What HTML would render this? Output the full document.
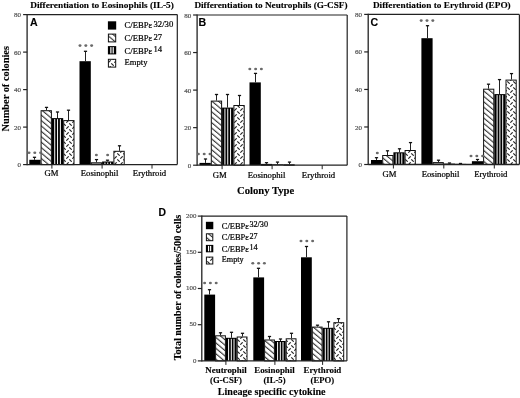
<!DOCTYPE html>
<html><head><meta charset="utf-8"><style>
html,body{margin:0;padding:0;background:#fff;width:520px;height:398px;overflow:hidden}
svg{display:block;will-change:transform;filter:blur(0.3px)}
</style></head><body>
<svg width="520" height="398" viewBox="0 0 520 398">
<defs>
<pattern id="hatch" patternUnits="userSpaceOnUse" width="4.15" height="4.15" patternTransform="rotate(-50)">
<rect width="4.15" height="4.15" fill="#fff"/><line x1="0.6" y1="0" x2="0.6" y2="4.15" stroke="#111" stroke-width="0.95"/></pattern>
<pattern id="zig" patternUnits="userSpaceOnUse" width="6" height="6">
<rect width="6" height="6" fill="#fff"/>
<line x1="0.3" y1="2.7" x2="2.7" y2="0.3" stroke="#222" stroke-width="1.15"/>
<line x1="3.3" y1="3.3" x2="5.7" y2="5.7" stroke="#222" stroke-width="1.15"/>
</pattern>
</defs>
<rect width="520" height="398" fill="#fff"/>
<rect x="29.3" y="159.8" width="11.3" height="4.8" fill="#000"/>
<rect x="41.1" y="110.7" width="10.3" height="53.9" fill="url(#hatch)" stroke="#111" stroke-width="1"/>
<rect x="51.9" y="118.1" width="11.3" height="46.5" fill="#000"/>
<rect x="54.23" y="119.1" width="1" height="45.5" fill="#fff"/>
<rect x="57.05" y="119.1" width="1" height="45.5" fill="#fff"/>
<rect x="59.88" y="119.1" width="1" height="45.5" fill="#fff"/>
<rect x="63.7" y="120.6" width="10.3" height="44" fill="url(#zig)" stroke="#111" stroke-width="1"/>
<line x1="34.5" y1="159.8" x2="34.5" y2="157.3" stroke="#222" stroke-width="1.0"/>
<line x1="32.9" y1="157.3" x2="36.1" y2="157.3" stroke="#111" stroke-width="1.3"/>
<line x1="46.5" y1="110.2" x2="46.5" y2="107.4" stroke="#222" stroke-width="1.0"/>
<line x1="44.9" y1="107.4" x2="48.1" y2="107.4" stroke="#111" stroke-width="1.3"/>
<line x1="57.5" y1="118.1" x2="57.5" y2="112" stroke="#222" stroke-width="1.0"/>
<line x1="55.9" y1="112" x2="59.1" y2="112" stroke="#111" stroke-width="1.3"/>
<line x1="68.5" y1="120.1" x2="68.5" y2="110.2" stroke="#222" stroke-width="1.0"/>
<line x1="66.9" y1="110.2" x2="70.1" y2="110.2" stroke="#111" stroke-width="1.3"/>
<rect x="79.5" y="61.2" width="11.3" height="103.4" fill="#000"/>
<rect x="91.3" y="162.8" width="10.3" height="1.8" fill="#999" stroke="#111" stroke-width="1"/>
<rect x="102.1" y="161.5" width="11.3" height="3.1" fill="#000"/>
<rect x="104.42" y="162.5" width="1" height="2.1" fill="#fff"/>
<rect x="107.25" y="162.5" width="1" height="2.1" fill="#fff"/>
<rect x="110.07" y="162.5" width="1" height="2.1" fill="#fff"/>
<rect x="113.9" y="151.3" width="10.3" height="13.3" fill="url(#zig)" stroke="#111" stroke-width="1"/>
<line x1="85.5" y1="61.2" x2="85.5" y2="51.3" stroke="#222" stroke-width="1.0"/>
<line x1="83.9" y1="51.3" x2="87.1" y2="51.3" stroke="#111" stroke-width="1.3"/>
<line x1="96.5" y1="162.3" x2="96.5" y2="159.6" stroke="#222" stroke-width="1.0"/>
<line x1="94.9" y1="159.6" x2="98.1" y2="159.6" stroke="#111" stroke-width="1.3"/>
<line x1="107.5" y1="161.5" x2="107.5" y2="160.2" stroke="#222" stroke-width="1.0"/>
<line x1="105.9" y1="160.2" x2="109.1" y2="160.2" stroke="#111" stroke-width="1.3"/>
<line x1="119.5" y1="150.8" x2="119.5" y2="145.8" stroke="#222" stroke-width="1.0"/>
<line x1="117.9" y1="145.8" x2="121.1" y2="145.8" stroke="#111" stroke-width="1.3"/>
<line x1="27.1" y1="14.6" x2="177.3" y2="14.6" stroke="#222" stroke-width="1.2"/>
<line x1="177.3" y1="14.6" x2="177.3" y2="164.6" stroke="#222" stroke-width="1.2"/>
<line x1="27.1" y1="14" x2="27.1" y2="165.2" stroke="#222" stroke-width="1.3"/>
<line x1="27.1" y1="164.6" x2="177.3" y2="164.6" stroke="#222" stroke-width="1.3"/>
<line x1="23.1" y1="164.6" x2="27.1" y2="164.6" stroke="#222" stroke-width="1.2"/>
<text x="21" y="167.12" style="font-family:'Liberation Serif';font-size:7.0px;font-weight:normal" text-anchor="end" fill="#555"  stroke="#555" stroke-width="0.22">0</text>
<line x1="23.1" y1="127.1" x2="27.1" y2="127.1" stroke="#222" stroke-width="1.2"/>
<text x="21" y="129.62" style="font-family:'Liberation Serif';font-size:7.0px;font-weight:normal" text-anchor="end" fill="#555"  stroke="#555" stroke-width="0.22">20</text>
<line x1="23.1" y1="89.6" x2="27.1" y2="89.6" stroke="#222" stroke-width="1.2"/>
<text x="21" y="92.12" style="font-family:'Liberation Serif';font-size:7.0px;font-weight:normal" text-anchor="end" fill="#555"  stroke="#555" stroke-width="0.22">40</text>
<line x1="23.1" y1="52.1" x2="27.1" y2="52.1" stroke="#222" stroke-width="1.2"/>
<text x="21" y="54.62" style="font-family:'Liberation Serif';font-size:7.0px;font-weight:normal" text-anchor="end" fill="#555"  stroke="#555" stroke-width="0.22">60</text>
<line x1="23.1" y1="14.6" x2="27.1" y2="14.6" stroke="#222" stroke-width="1.2"/>
<text x="21" y="17.12" style="font-family:'Liberation Serif';font-size:7.0px;font-weight:normal" text-anchor="end" fill="#555"  stroke="#555" stroke-width="0.22">80</text>
<line x1="51.9" y1="164.6" x2="51.9" y2="168.6" stroke="#222" stroke-width="1.0"/>
<line x1="102.1" y1="164.6" x2="102.1" y2="168.6" stroke="#222" stroke-width="1.0"/>
<line x1="152" y1="164.6" x2="152" y2="168.6" stroke="#222" stroke-width="1.0"/>
<ellipse cx="29" cy="152.8" rx="1.5" ry="1.3" fill="#6a6a6a"/>
<ellipse cx="34.8" cy="152.8" rx="1.5" ry="1.3" fill="#6a6a6a"/>
<ellipse cx="40.6" cy="152.8" rx="1.5" ry="1.3" fill="#6a6a6a"/>
<ellipse cx="80" cy="45.6" rx="1.5" ry="1.3" fill="#6a6a6a"/>
<ellipse cx="85.8" cy="45.6" rx="1.5" ry="1.3" fill="#6a6a6a"/>
<ellipse cx="91.6" cy="45.6" rx="1.5" ry="1.3" fill="#6a6a6a"/>
<ellipse cx="96.4" cy="155" rx="1.5" ry="1.3" fill="#6a6a6a"/>
<ellipse cx="107.6" cy="155" rx="1.5" ry="1.3" fill="#6a6a6a"/>
<rect x="199.5" y="162.9" width="11.3" height="2.3" fill="#000"/>
<rect x="211.3" y="101.1" width="10.3" height="64.1" fill="url(#hatch)" stroke="#111" stroke-width="1"/>
<rect x="222.1" y="107.6" width="11.3" height="57.6" fill="#000"/>
<rect x="224.42" y="108.6" width="1" height="56.6" fill="#fff"/>
<rect x="227.25" y="108.6" width="1" height="56.6" fill="#fff"/>
<rect x="230.07" y="108.6" width="1" height="56.6" fill="#fff"/>
<rect x="233.9" y="105.5" width="10.3" height="59.7" fill="url(#zig)" stroke="#111" stroke-width="1"/>
<line x1="205.5" y1="162.9" x2="205.5" y2="159" stroke="#222" stroke-width="1.0"/>
<line x1="203.9" y1="159" x2="207.1" y2="159" stroke="#111" stroke-width="1.3"/>
<line x1="216.5" y1="100.6" x2="216.5" y2="94.5" stroke="#222" stroke-width="1.0"/>
<line x1="214.9" y1="94.5" x2="218.1" y2="94.5" stroke="#111" stroke-width="1.3"/>
<line x1="227.5" y1="107.6" x2="227.5" y2="94.5" stroke="#222" stroke-width="1.0"/>
<line x1="225.9" y1="94.5" x2="229.1" y2="94.5" stroke="#111" stroke-width="1.3"/>
<line x1="239.5" y1="105" x2="239.5" y2="95.5" stroke="#222" stroke-width="1.0"/>
<line x1="237.9" y1="95.5" x2="241.1" y2="95.5" stroke="#111" stroke-width="1.3"/>
<rect x="249.5" y="82.4" width="11.3" height="82.8" fill="#000"/>
<rect x="261.3" y="164.4" width="10.3" height="0.8" fill="#999" stroke="#111" stroke-width="1"/>
<rect x="272.1" y="164.3" width="11.3" height="0.9" fill="#000"/>
<rect x="283.9" y="164.8" width="10.3" height="0.4" fill="#999" stroke="#111" stroke-width="1"/>
<line x1="255.5" y1="82.4" x2="255.5" y2="73.4" stroke="#222" stroke-width="1.0"/>
<line x1="253.9" y1="73.4" x2="257.1" y2="73.4" stroke="#111" stroke-width="1.3"/>
<line x1="266.5" y1="163.9" x2="266.5" y2="162.7" stroke="#222" stroke-width="1.0"/>
<line x1="264.9" y1="162.7" x2="268.1" y2="162.7" stroke="#111" stroke-width="1.3"/>
<line x1="277.5" y1="164.3" x2="277.5" y2="162.1" stroke="#222" stroke-width="1.0"/>
<line x1="275.9" y1="162.1" x2="279.1" y2="162.1" stroke="#111" stroke-width="1.3"/>
<line x1="289.5" y1="164.3" x2="289.5" y2="162.1" stroke="#222" stroke-width="1.0"/>
<line x1="287.9" y1="162.1" x2="291.1" y2="162.1" stroke="#111" stroke-width="1.3"/>
<line x1="197.1" y1="15" x2="347.2" y2="15" stroke="#222" stroke-width="1.2"/>
<line x1="347.2" y1="15" x2="347.2" y2="165.2" stroke="#222" stroke-width="1.2"/>
<line x1="197.1" y1="14.4" x2="197.1" y2="165.8" stroke="#222" stroke-width="1.3"/>
<line x1="197.1" y1="165.2" x2="347.2" y2="165.2" stroke="#222" stroke-width="1.3"/>
<line x1="193.1" y1="165.2" x2="197.1" y2="165.2" stroke="#222" stroke-width="1.2"/>
<text x="191.2" y="167.72" style="font-family:'Liberation Serif';font-size:7.0px;font-weight:normal" text-anchor="end" fill="#555"  stroke="#555" stroke-width="0.22">0</text>
<line x1="193.1" y1="127.65" x2="197.1" y2="127.65" stroke="#222" stroke-width="1.2"/>
<text x="191.2" y="130.17" style="font-family:'Liberation Serif';font-size:7.0px;font-weight:normal" text-anchor="end" fill="#555"  stroke="#555" stroke-width="0.22">20</text>
<line x1="193.1" y1="90.1" x2="197.1" y2="90.1" stroke="#222" stroke-width="1.2"/>
<text x="191.2" y="92.62" style="font-family:'Liberation Serif';font-size:7.0px;font-weight:normal" text-anchor="end" fill="#555"  stroke="#555" stroke-width="0.22">40</text>
<line x1="193.1" y1="52.55" x2="197.1" y2="52.55" stroke="#222" stroke-width="1.2"/>
<text x="191.2" y="55.07" style="font-family:'Liberation Serif';font-size:7.0px;font-weight:normal" text-anchor="end" fill="#555"  stroke="#555" stroke-width="0.22">60</text>
<line x1="193.1" y1="15" x2="197.1" y2="15" stroke="#222" stroke-width="1.2"/>
<text x="191.2" y="17.52" style="font-family:'Liberation Serif';font-size:7.0px;font-weight:normal" text-anchor="end" fill="#555"  stroke="#555" stroke-width="0.22">80</text>
<line x1="222.1" y1="165.2" x2="222.1" y2="169.2" stroke="#222" stroke-width="1.0"/>
<line x1="272.1" y1="165.2" x2="272.1" y2="169.2" stroke="#222" stroke-width="1.0"/>
<line x1="322.2" y1="165.2" x2="322.2" y2="169.2" stroke="#222" stroke-width="1.0"/>
<ellipse cx="198.4" cy="154" rx="1.5" ry="1.3" fill="#6a6a6a"/>
<ellipse cx="204.2" cy="154" rx="1.5" ry="1.3" fill="#6a6a6a"/>
<ellipse cx="210" cy="154" rx="1.5" ry="1.3" fill="#6a6a6a"/>
<ellipse cx="249.8" cy="69" rx="1.5" ry="1.3" fill="#6a6a6a"/>
<ellipse cx="255.6" cy="69" rx="1.5" ry="1.3" fill="#6a6a6a"/>
<ellipse cx="261.4" cy="69" rx="1.5" ry="1.3" fill="#6a6a6a"/>
<rect x="371" y="160" width="11.2" height="4.5" fill="#000"/>
<rect x="382.7" y="155.5" width="10.2" height="9" fill="url(#hatch)" stroke="#111" stroke-width="1"/>
<rect x="393.4" y="152.3" width="11.2" height="12.2" fill="#000"/>
<rect x="395.7" y="153.3" width="1" height="11.2" fill="#fff"/>
<rect x="398.5" y="153.3" width="1" height="11.2" fill="#fff"/>
<rect x="401.3" y="153.3" width="1" height="11.2" fill="#fff"/>
<rect x="405.1" y="150.5" width="10.2" height="14" fill="url(#zig)" stroke="#111" stroke-width="1"/>
<line x1="376.5" y1="160" x2="376.5" y2="157.7" stroke="#222" stroke-width="1.0"/>
<line x1="374.9" y1="157.7" x2="378.1" y2="157.7" stroke="#111" stroke-width="1.3"/>
<line x1="387.5" y1="155" x2="387.5" y2="150.8" stroke="#222" stroke-width="1.0"/>
<line x1="385.9" y1="150.8" x2="389.1" y2="150.8" stroke="#111" stroke-width="1.3"/>
<line x1="399.5" y1="152.3" x2="399.5" y2="148.8" stroke="#222" stroke-width="1.0"/>
<line x1="397.9" y1="148.8" x2="401.1" y2="148.8" stroke="#111" stroke-width="1.3"/>
<line x1="410.5" y1="150" x2="410.5" y2="142.6" stroke="#222" stroke-width="1.0"/>
<line x1="408.9" y1="142.6" x2="412.1" y2="142.6" stroke="#111" stroke-width="1.3"/>
<rect x="421.4" y="38.2" width="11.2" height="126.3" fill="#000"/>
<rect x="433.1" y="162.6" width="10.2" height="1.9" fill="#999" stroke="#111" stroke-width="1"/>
<rect x="443.8" y="163.6" width="11.2" height="0.9" fill="#000"/>
<rect x="455.5" y="164.4" width="10.2" height="0.1" fill="#999" stroke="#111" stroke-width="1"/>
<line x1="427.5" y1="38.2" x2="427.5" y2="25.7" stroke="#222" stroke-width="1.0"/>
<line x1="425.9" y1="25.7" x2="429.1" y2="25.7" stroke="#111" stroke-width="1.3"/>
<line x1="438.5" y1="162.1" x2="438.5" y2="160.2" stroke="#222" stroke-width="1.0"/>
<line x1="436.9" y1="160.2" x2="440.1" y2="160.2" stroke="#111" stroke-width="1.3"/>
<line x1="449.5" y1="163.6" x2="449.5" y2="163" stroke="#222" stroke-width="1.0"/>
<line x1="447.9" y1="163" x2="451.1" y2="163" stroke="#111" stroke-width="1.3"/>
<line x1="460.5" y1="163.9" x2="460.5" y2="163.5" stroke="#222" stroke-width="1.0"/>
<line x1="458.9" y1="163.5" x2="462.1" y2="163.5" stroke="#111" stroke-width="1.3"/>
<rect x="471.9" y="161.2" width="11.2" height="3.3" fill="#000"/>
<rect x="483.6" y="89.2" width="10.2" height="75.3" fill="url(#hatch)" stroke="#111" stroke-width="1"/>
<rect x="494.3" y="94.1" width="11.2" height="70.4" fill="#000"/>
<rect x="496.6" y="95.1" width="1" height="69.4" fill="#fff"/>
<rect x="499.4" y="95.1" width="1" height="69.4" fill="#fff"/>
<rect x="502.2" y="95.1" width="1" height="69.4" fill="#fff"/>
<rect x="506" y="80.1" width="10.2" height="84.4" fill="url(#zig)" stroke="#111" stroke-width="1"/>
<line x1="477.5" y1="161.2" x2="477.5" y2="159.5" stroke="#222" stroke-width="1.0"/>
<line x1="475.9" y1="159.5" x2="479.1" y2="159.5" stroke="#111" stroke-width="1.3"/>
<line x1="488.5" y1="88.7" x2="488.5" y2="84.2" stroke="#222" stroke-width="1.0"/>
<line x1="486.9" y1="84.2" x2="490.1" y2="84.2" stroke="#111" stroke-width="1.3"/>
<line x1="499.5" y1="94.1" x2="499.5" y2="79.6" stroke="#222" stroke-width="1.0"/>
<line x1="497.9" y1="79.6" x2="501.1" y2="79.6" stroke="#111" stroke-width="1.3"/>
<line x1="511.5" y1="79.6" x2="511.5" y2="73.6" stroke="#222" stroke-width="1.0"/>
<line x1="509.9" y1="73.6" x2="513.1" y2="73.6" stroke="#111" stroke-width="1.3"/>
<line x1="368.2" y1="14.4" x2="519.4" y2="14.4" stroke="#222" stroke-width="1.2"/>
<line x1="519.4" y1="14.4" x2="519.4" y2="164.5" stroke="#222" stroke-width="1.2"/>
<line x1="368.2" y1="13.8" x2="368.2" y2="165.1" stroke="#222" stroke-width="1.3"/>
<line x1="368.2" y1="164.5" x2="519.4" y2="164.5" stroke="#222" stroke-width="1.3"/>
<line x1="364.2" y1="164.5" x2="368.2" y2="164.5" stroke="#222" stroke-width="1.2"/>
<text x="362" y="167.02" style="font-family:'Liberation Serif';font-size:7.0px;font-weight:normal" text-anchor="end" fill="#555"  stroke="#555" stroke-width="0.22">0</text>
<line x1="364.2" y1="126.97" x2="368.2" y2="126.97" stroke="#222" stroke-width="1.2"/>
<text x="362" y="129.5" style="font-family:'Liberation Serif';font-size:7.0px;font-weight:normal" text-anchor="end" fill="#555"  stroke="#555" stroke-width="0.22">20</text>
<line x1="364.2" y1="89.45" x2="368.2" y2="89.45" stroke="#222" stroke-width="1.2"/>
<text x="362" y="91.97" style="font-family:'Liberation Serif';font-size:7.0px;font-weight:normal" text-anchor="end" fill="#555"  stroke="#555" stroke-width="0.22">40</text>
<line x1="364.2" y1="51.92" x2="368.2" y2="51.92" stroke="#222" stroke-width="1.2"/>
<text x="362" y="54.45" style="font-family:'Liberation Serif';font-size:7.0px;font-weight:normal" text-anchor="end" fill="#555"  stroke="#555" stroke-width="0.22">60</text>
<line x1="364.2" y1="14.4" x2="368.2" y2="14.4" stroke="#222" stroke-width="1.2"/>
<text x="362" y="16.92" style="font-family:'Liberation Serif';font-size:7.0px;font-weight:normal" text-anchor="end" fill="#555"  stroke="#555" stroke-width="0.22">80</text>
<line x1="393.4" y1="164.5" x2="393.4" y2="168.5" stroke="#222" stroke-width="1.0"/>
<line x1="443.8" y1="164.5" x2="443.8" y2="168.5" stroke="#222" stroke-width="1.0"/>
<line x1="494.3" y1="164.5" x2="494.3" y2="168.5" stroke="#222" stroke-width="1.0"/>
<ellipse cx="377.3" cy="153" rx="1.5" ry="1.3" fill="#6a6a6a"/>
<ellipse cx="421.2" cy="20.6" rx="1.5" ry="1.3" fill="#6a6a6a"/>
<ellipse cx="427" cy="20.6" rx="1.5" ry="1.3" fill="#6a6a6a"/>
<ellipse cx="432.8" cy="20.6" rx="1.5" ry="1.3" fill="#6a6a6a"/>
<ellipse cx="471" cy="156" rx="1.5" ry="1.3" fill="#6a6a6a"/>
<ellipse cx="476.8" cy="156" rx="1.5" ry="1.3" fill="#6a6a6a"/>
<ellipse cx="482.6" cy="156" rx="1.5" ry="1.3" fill="#6a6a6a"/>
<rect x="204.3" y="294.6" width="10.8" height="66.3" fill="#000"/>
<rect x="215.6" y="335.8" width="9.8" height="25.1" fill="url(#hatch)" stroke="#111" stroke-width="1"/>
<rect x="225.9" y="337.8" width="10.8" height="23.1" fill="#000"/>
<rect x="228.1" y="338.8" width="1" height="22.1" fill="#fff"/>
<rect x="230.8" y="338.8" width="1" height="22.1" fill="#fff"/>
<rect x="233.5" y="338.8" width="1" height="22.1" fill="#fff"/>
<rect x="237.2" y="337" width="9.8" height="23.9" fill="url(#zig)" stroke="#111" stroke-width="1"/>
<line x1="209.5" y1="294.6" x2="209.5" y2="289.7" stroke="#222" stroke-width="1.0"/>
<line x1="207.9" y1="289.7" x2="211.1" y2="289.7" stroke="#111" stroke-width="1.3"/>
<line x1="220.5" y1="335.3" x2="220.5" y2="332.8" stroke="#222" stroke-width="1.0"/>
<line x1="218.9" y1="332.8" x2="222.1" y2="332.8" stroke="#111" stroke-width="1.3"/>
<line x1="231.5" y1="337.8" x2="231.5" y2="332.3" stroke="#222" stroke-width="1.0"/>
<line x1="229.9" y1="332.3" x2="233.1" y2="332.3" stroke="#111" stroke-width="1.3"/>
<line x1="242.5" y1="336.5" x2="242.5" y2="333.3" stroke="#222" stroke-width="1.0"/>
<line x1="240.9" y1="333.3" x2="244.1" y2="333.3" stroke="#111" stroke-width="1.3"/>
<rect x="253.3" y="277.4" width="10.8" height="83.5" fill="#000"/>
<rect x="264.6" y="340" width="9.8" height="20.9" fill="url(#hatch)" stroke="#111" stroke-width="1"/>
<rect x="274.9" y="341" width="10.8" height="19.9" fill="#000"/>
<rect x="277.1" y="342" width="1" height="18.9" fill="#fff"/>
<rect x="279.8" y="342" width="1" height="18.9" fill="#fff"/>
<rect x="282.5" y="342" width="1" height="18.9" fill="#fff"/>
<rect x="286.2" y="338.8" width="9.8" height="22.1" fill="url(#zig)" stroke="#111" stroke-width="1"/>
<line x1="258.5" y1="277.4" x2="258.5" y2="268.3" stroke="#222" stroke-width="1.0"/>
<line x1="256.9" y1="268.3" x2="260.1" y2="268.3" stroke="#111" stroke-width="1.3"/>
<line x1="269.5" y1="339.5" x2="269.5" y2="336.5" stroke="#222" stroke-width="1.0"/>
<line x1="267.9" y1="336.5" x2="271.1" y2="336.5" stroke="#111" stroke-width="1.3"/>
<line x1="280.5" y1="341" x2="280.5" y2="339" stroke="#222" stroke-width="1.0"/>
<line x1="278.9" y1="339" x2="282.1" y2="339" stroke="#111" stroke-width="1.3"/>
<line x1="291.5" y1="338.3" x2="291.5" y2="333.3" stroke="#222" stroke-width="1.0"/>
<line x1="289.9" y1="333.3" x2="293.1" y2="333.3" stroke="#111" stroke-width="1.3"/>
<rect x="301" y="257.3" width="10.8" height="103.6" fill="#000"/>
<rect x="312.3" y="327.1" width="9.8" height="33.8" fill="url(#hatch)" stroke="#111" stroke-width="1"/>
<rect x="322.6" y="327.8" width="10.8" height="33.1" fill="#000"/>
<rect x="324.8" y="328.8" width="1" height="32.1" fill="#fff"/>
<rect x="327.5" y="328.8" width="1" height="32.1" fill="#fff"/>
<rect x="330.2" y="328.8" width="1" height="32.1" fill="#fff"/>
<rect x="333.9" y="322.7" width="9.8" height="38.2" fill="url(#zig)" stroke="#111" stroke-width="1"/>
<line x1="306.5" y1="257.3" x2="306.5" y2="246.5" stroke="#222" stroke-width="1.0"/>
<line x1="304.9" y1="246.5" x2="308.1" y2="246.5" stroke="#111" stroke-width="1.3"/>
<line x1="317.5" y1="326.6" x2="317.5" y2="325.2" stroke="#222" stroke-width="1.0"/>
<line x1="315.9" y1="325.2" x2="319.1" y2="325.2" stroke="#111" stroke-width="1.3"/>
<line x1="328.5" y1="327.8" x2="328.5" y2="321.8" stroke="#222" stroke-width="1.0"/>
<line x1="326.9" y1="321.8" x2="330.1" y2="321.8" stroke="#111" stroke-width="1.3"/>
<line x1="338.5" y1="322.2" x2="338.5" y2="318.7" stroke="#222" stroke-width="1.0"/>
<line x1="336.9" y1="318.7" x2="340.1" y2="318.7" stroke="#111" stroke-width="1.3"/>
<line x1="201.8" y1="216.1" x2="346.9" y2="216.1" stroke="#222" stroke-width="1.2"/>
<line x1="346.9" y1="216.1" x2="346.9" y2="360.9" stroke="#222" stroke-width="1.2"/>
<line x1="201.8" y1="215.5" x2="201.8" y2="361.5" stroke="#222" stroke-width="1.3"/>
<line x1="201.8" y1="360.9" x2="346.9" y2="360.9" stroke="#222" stroke-width="1.3"/>
<line x1="197.8" y1="360.9" x2="201.8" y2="360.9" stroke="#222" stroke-width="1.2"/>
<text x="196.4" y="362.56" style="font-family:'Liberation Serif';font-size:6.9px;font-weight:normal" text-anchor="end" fill="#555"  stroke="#555" stroke-width="0.22">0</text>
<line x1="197.8" y1="324.7" x2="201.8" y2="324.7" stroke="#222" stroke-width="1.2"/>
<text x="196.4" y="326.36" style="font-family:'Liberation Serif';font-size:6.9px;font-weight:normal" text-anchor="end" fill="#555"  stroke="#555" stroke-width="0.22">50</text>
<line x1="197.8" y1="288.5" x2="201.8" y2="288.5" stroke="#222" stroke-width="1.2"/>
<text x="196.4" y="290.16" style="font-family:'Liberation Serif';font-size:6.9px;font-weight:normal" text-anchor="end" fill="#555"  stroke="#555" stroke-width="0.22">100</text>
<line x1="197.8" y1="252.3" x2="201.8" y2="252.3" stroke="#222" stroke-width="1.2"/>
<text x="196.4" y="253.96" style="font-family:'Liberation Serif';font-size:6.9px;font-weight:normal" text-anchor="end" fill="#555"  stroke="#555" stroke-width="0.22">150</text>
<line x1="197.8" y1="216.1" x2="201.8" y2="216.1" stroke="#222" stroke-width="1.2"/>
<text x="196.4" y="217.76" style="font-family:'Liberation Serif';font-size:6.9px;font-weight:normal" text-anchor="end" fill="#555"  stroke="#555" stroke-width="0.22">200</text>
<line x1="225.9" y1="360.9" x2="225.9" y2="364.9" stroke="#222" stroke-width="1.0"/>
<line x1="274.9" y1="360.9" x2="274.9" y2="364.9" stroke="#222" stroke-width="1.0"/>
<line x1="322.6" y1="360.9" x2="322.6" y2="364.9" stroke="#222" stroke-width="1.0"/>
<ellipse cx="204.6" cy="283" rx="1.5" ry="1.3" fill="#6a6a6a"/>
<ellipse cx="210.4" cy="283" rx="1.5" ry="1.3" fill="#6a6a6a"/>
<ellipse cx="216.2" cy="283" rx="1.5" ry="1.3" fill="#6a6a6a"/>
<ellipse cx="252.8" cy="263.3" rx="1.5" ry="1.3" fill="#6a6a6a"/>
<ellipse cx="258.6" cy="263.3" rx="1.5" ry="1.3" fill="#6a6a6a"/>
<ellipse cx="264.4" cy="263.3" rx="1.5" ry="1.3" fill="#6a6a6a"/>
<ellipse cx="301" cy="241" rx="1.5" ry="1.3" fill="#6a6a6a"/>
<ellipse cx="306.8" cy="241" rx="1.5" ry="1.3" fill="#6a6a6a"/>
<ellipse cx="312.6" cy="241" rx="1.5" ry="1.3" fill="#6a6a6a"/>
<text x="30.2" y="7.5" style="font-family:'Liberation Serif';font-size:9px;font-weight:bold" text-anchor="start" fill="#000" textLength="143.6" lengthAdjust="spacingAndGlyphs"  stroke="#000" stroke-width="0.12">Differentiation to Eosinophils (IL-5)</text>
<text x="194.4" y="7.5" style="font-family:'Liberation Serif';font-size:9px;font-weight:bold" text-anchor="start" fill="#000" textLength="153.1" lengthAdjust="spacingAndGlyphs"  stroke="#000" stroke-width="0.12">Differentiation to Neutrophils (G-CSF)</text>
<text x="372.9" y="7.6" style="font-family:'Liberation Serif';font-size:9px;font-weight:bold" text-anchor="start" fill="#000" textLength="137.8" lengthAdjust="spacingAndGlyphs"  stroke="#000" stroke-width="0.12">Differentiation to Erythroid (EPO)</text>
<text x="29.9" y="25.7" style="font-family:'Liberation Sans';font-size:10.6px;font-weight:bold" text-anchor="start" fill="#000"  stroke="#000" stroke-width="0.12">A</text>
<text x="198.6" y="25.6" style="font-family:'Liberation Sans';font-size:10.6px;font-weight:bold" text-anchor="start" fill="#000"  stroke="#000" stroke-width="0.12">B</text>
<text x="370.6" y="25.7" style="font-family:'Liberation Sans';font-size:10.6px;font-weight:bold" text-anchor="start" fill="#000"  stroke="#000" stroke-width="0.12">C</text>
<text x="158.4" y="216" style="font-family:'Liberation Sans';font-size:10.4px;font-weight:bold" text-anchor="start" fill="#000"  stroke="#000" stroke-width="0.12">D</text>
<text transform="translate(8.8,131.6) rotate(-90)" style="font-family:Liberation Serif;font-size:10.5px;font-weight:bold" textLength="85.6" lengthAdjust="spacingAndGlyphs" stroke="#000" stroke-width="0.12">Number of colonies</text>
<text transform="translate(181.1,360.3) rotate(-90)" style="font-family:Liberation Serif;font-size:10px;font-weight:bold" textLength="145.6" lengthAdjust="spacingAndGlyphs" stroke="#000" stroke-width="0.12">Total number of colonies/500 cells</text>
<text x="51.4" y="176.2" style="font-family:'Liberation Serif';font-size:8.7px;font-weight:normal" text-anchor="middle" fill="#000"  stroke="#000" stroke-width="0.22">GM</text>
<text x="99.6" y="176.2" style="font-family:'Liberation Serif';font-size:8.7px;font-weight:normal" text-anchor="middle" fill="#000"  stroke="#000" stroke-width="0.22">Eosinophil</text>
<text x="149.5" y="176.2" style="font-family:'Liberation Serif';font-size:8.7px;font-weight:normal" text-anchor="middle" fill="#000"  stroke="#000" stroke-width="0.22">Erythroid</text>
<text x="219.7" y="177.6" style="font-family:'Liberation Serif';font-size:8.7px;font-weight:normal" text-anchor="middle" fill="#000"  stroke="#000" stroke-width="0.22">GM</text>
<text x="266.6" y="177.6" style="font-family:'Liberation Serif';font-size:8.7px;font-weight:normal" text-anchor="middle" fill="#000"  stroke="#000" stroke-width="0.22">Eosinophil</text>
<text x="318.5" y="177.6" style="font-family:'Liberation Serif';font-size:8.7px;font-weight:normal" text-anchor="middle" fill="#000"  stroke="#000" stroke-width="0.22">Erythroid</text>
<text x="389.6" y="177.3" style="font-family:'Liberation Serif';font-size:8.7px;font-weight:normal" text-anchor="middle" fill="#000"  stroke="#000" stroke-width="0.22">GM</text>
<text x="440.5" y="177.3" style="font-family:'Liberation Serif';font-size:8.7px;font-weight:normal" text-anchor="middle" fill="#000"  stroke="#000" stroke-width="0.22">Eosinophil</text>
<text x="490.8" y="177.3" style="font-family:'Liberation Serif';font-size:8.7px;font-weight:normal" text-anchor="middle" fill="#000"  stroke="#000" stroke-width="0.22">Erythroid</text>
<text x="265.6" y="194.2" style="font-family:'Liberation Serif';font-size:10.3px;font-weight:bold" text-anchor="middle" fill="#000" textLength="57.3" lengthAdjust="spacingAndGlyphs"  stroke="#000" stroke-width="0.12">Colony Type</text>
<text x="226" y="372.6" style="font-family:'Liberation Serif';font-size:8.9px;font-weight:bold" text-anchor="middle" fill="#000"  stroke="#000" stroke-width="0.12">Neutrophil</text>
<text x="226" y="382.8" style="font-family:'Liberation Serif';font-size:8.7px;font-weight:bold" text-anchor="middle" fill="#000"  stroke="#000" stroke-width="0.12">(G-CSF)</text>
<text x="274.5" y="372.6" style="font-family:'Liberation Serif';font-size:8.9px;font-weight:bold" text-anchor="middle" fill="#000"  stroke="#000" stroke-width="0.12">Eosinophil</text>
<text x="274.5" y="382.8" style="font-family:'Liberation Serif';font-size:8.7px;font-weight:bold" text-anchor="middle" fill="#000"  stroke="#000" stroke-width="0.12">(IL-5)</text>
<text x="322.4" y="372.6" style="font-family:'Liberation Serif';font-size:8.9px;font-weight:bold" text-anchor="middle" fill="#000"  stroke="#000" stroke-width="0.12">Erythroid</text>
<text x="322.4" y="382.8" style="font-family:'Liberation Serif';font-size:8.7px;font-weight:bold" text-anchor="middle" fill="#000"  stroke="#000" stroke-width="0.12">(EPO)</text>
<text x="271.7" y="394.6" style="font-family:'Liberation Serif';font-size:10.5px;font-weight:bold" text-anchor="middle" fill="#000" textLength="107.8" lengthAdjust="spacingAndGlyphs"  stroke="#000" stroke-width="0.12">Lineage specific cytokine</text>
<rect x="107.9" y="21.3" width="8.3" height="8.3" fill="#000"/>
<text x="124.6" y="28.4" style="font-family:Liberation Serif;font-size:8.6px" fill="#000" stroke="#000" stroke-width="0.2" textLength="27.6" lengthAdjust="spacingAndGlyphs">C/EBP&#949;</text>
<text x="153.5" y="27" style="font-family:Liberation Serif;font-size:8.7px" fill="#000" stroke="#000" stroke-width="0.2">32/30</text>
<rect x="108.4" y="34.1" width="7.3" height="7.8" fill="url(#hatch)" stroke="#111" stroke-width="1"/>
<text x="124.6" y="40.9" style="font-family:Liberation Serif;font-size:8.6px" fill="#000" stroke="#000" stroke-width="0.2" textLength="27.6" lengthAdjust="spacingAndGlyphs">C/EBP&#949;</text>
<text x="153.5" y="39.5" style="font-family:Liberation Serif;font-size:8.7px" fill="#000" stroke="#000" stroke-width="0.2">27</text>
<rect x="107.9" y="46.1" width="8.3" height="8.3" fill="#000"/>
<rect x="110.29" y="47.1" width="1.2" height="6.3" fill="#fff"/>
<rect x="112.61" y="47.1" width="1.2" height="6.3" fill="#fff"/>
<text x="124.6" y="53.6" style="font-family:Liberation Serif;font-size:8.6px" fill="#000" stroke="#000" stroke-width="0.2" textLength="27.6" lengthAdjust="spacingAndGlyphs">C/EBP&#949;</text>
<text x="153.5" y="52.2" style="font-family:Liberation Serif;font-size:8.7px" fill="#000" stroke="#000" stroke-width="0.2">14</text>
<rect x="108.4" y="59.3" width="7.3" height="7.8" fill="url(#zig)" stroke="#111" stroke-width="1"/>
<text x="124.6" y="65" style="font-family:'Liberation Serif';font-size:8.6px;font-weight:normal" text-anchor="start" fill="#000"  stroke="#000" stroke-width="0.2">Empty</text>
<rect x="205.9" y="221.8" width="7.4" height="7.4" fill="#000"/>
<text x="221.8" y="228.7" style="font-family:Liberation Serif;font-size:8.2px" fill="#000" stroke="#000" stroke-width="0.2" textLength="27" lengthAdjust="spacingAndGlyphs">C/EBP&#949;</text>
<text x="249.4" y="227.1" style="font-family:Liberation Serif;font-size:8.2px" fill="#000" stroke="#000" stroke-width="0.2">32/30</text>
<rect x="206.4" y="233.8" width="6.4" height="6.9" fill="url(#hatch)" stroke="#111" stroke-width="1"/>
<text x="221.8" y="240.3" style="font-family:Liberation Serif;font-size:8.2px" fill="#000" stroke="#000" stroke-width="0.2" textLength="27" lengthAdjust="spacingAndGlyphs">C/EBP&#949;</text>
<text x="249.4" y="238.7" style="font-family:Liberation Serif;font-size:8.2px" fill="#000" stroke="#000" stroke-width="0.2">27</text>
<rect x="205.9" y="244.9" width="7.4" height="7.4" fill="#000"/>
<rect x="207.96" y="245.9" width="1.2" height="5.4" fill="#fff"/>
<rect x="210.04" y="245.9" width="1.2" height="5.4" fill="#fff"/>
<text x="221.8" y="251.8" style="font-family:Liberation Serif;font-size:8.2px" fill="#000" stroke="#000" stroke-width="0.2" textLength="27" lengthAdjust="spacingAndGlyphs">C/EBP&#949;</text>
<text x="249.4" y="250.2" style="font-family:Liberation Serif;font-size:8.2px" fill="#000" stroke="#000" stroke-width="0.2">14</text>
<rect x="206.4" y="257.1" width="6.4" height="6.9" fill="url(#zig)" stroke="#111" stroke-width="1"/>
<text x="221.8" y="261.8" style="font-family:'Liberation Serif';font-size:8.2px;font-weight:normal" text-anchor="start" fill="#000"  stroke="#000" stroke-width="0.2">Empty</text>
</svg>
</body></html>
